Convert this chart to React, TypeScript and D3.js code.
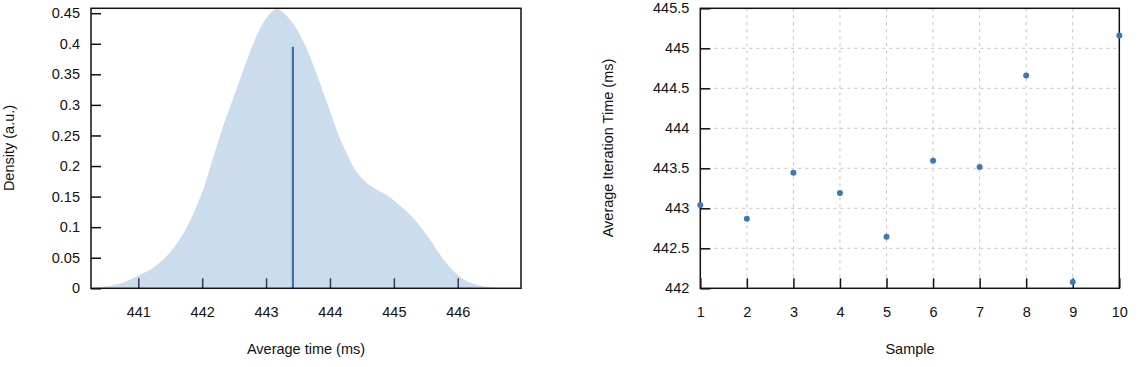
import React, { useRef, useEffect } from 'react';
import * as d3 from 'd3';

// density estimate of the average time
const densityX = [440.26, 440.5, 440.75, 441, 441.25, 441.5, 441.75, 442, 442.17, 442.33, 442.49, 442.64, 442.8, 442.95, 443.1, 443.2, 443.43, 443.6, 443.74, 444.0, 444.13, 444.27, 444.42, 444.63, 444.89, 445.1, 445.31, 445.57, 445.83, 446.09, 446.36, 446.6, 446.99];
const densityY = [0.0005, 0.003, 0.009, 0.021, 0.035, 0.059, 0.098, 0.157, 0.213, 0.266, 0.312, 0.356, 0.4, 0.433, 0.453, 0.456, 0.432, 0.4, 0.365, 0.29, 0.252, 0.219, 0.19, 0.168, 0.152, 0.135, 0.114, 0.079, 0.04, 0.015, 0.004, 0.001, 0];
const meanTime = 443.42;
const meanDensity = 0.395;

const pdfXTicks = [441, 442, 443, 444, 445, 446];
const pdfYTicks = [0, 0.05, 0.1, 0.15, 0.2, 0.25, 0.3, 0.35, 0.4, 0.45];

// average iteration time per sample
const samples = [1, 2, 3, 4, 5, 6, 7, 8, 9, 10];
const iterTimes = [443.04, 442.87, 443.445, 443.19, 442.645, 443.595, 443.516, 444.66, 442.08, 445.16];
const timeTicks = [442, 442.5, 443, 443.5, 444, 444.5, 445, 445.5];

const FONT = '"Liberation Sans", Arial, Helvetica, sans-serif';
const FS = 14.5;

export default function App() {
  const svgRef = useRef(null);

  useEffect(() => {
    const svg = d3.select(svgRef.current);
    svg.selectAll('*').remove();

    // ---------- left: density plot ----------
    const left = { x0: 91, x1: 521, y0: 8.3, y1: 288.3 };
    const xPdf = d3.scaleLinear().domain([440.26, 446.99]).range([left.x0, left.x1]);
    const yPdf = d3.scaleLinear().domain([0, 0.458]).range([left.y1, left.y0]);

    const pts = densityX.map((x, i) => [x, densityY[i]]);
    const area = d3.area()
      .x(d => xPdf(d[0]))
      .y0(yPdf(0))
      .y1(d => Math.min(yPdf(0), yPdf(d[1])))
      .curve(d3.curveCatmullRom.alpha(0.5));

    const gl = svg.append('g');
    gl.append('path').datum(pts).attr('d', area).attr('fill', '#cbdcec');

    gl.append('line')
      .attr('x1', xPdf(meanTime)).attr('x2', xPdf(meanTime))
      .attr('y1', yPdf(0)).attr('y2', yPdf(meanDensity))
      .attr('stroke', '#3b72ae').attr('stroke-width', 2.2);

    const xAxisL = gl.append('g')
      .attr('transform', `translate(0,${left.y1})`)
      .call(d3.axisBottom(xPdf).tickValues(pdfXTicks).tickSize(-10).tickPadding(18).tickFormat(d3.format('d')));
    const yAxisL = gl.append('g')
      .attr('transform', `translate(${left.x0},0)`)
      .call(d3.axisLeft(yPdf).tickValues(pdfYTicks).tickSize(-10).tickPadding(11).tickFormat(d => String(d)));
    [xAxisL, yAxisL].forEach(a => {
      a.select('.domain').remove();
      a.selectAll('text').attr('font-size', FS).attr('font-family', FONT).attr('fill', '#111');
    });
    xAxisL.selectAll('line').attr('stroke', '#333a44').attr('stroke-width', 1.5);
    yAxisL.selectAll('line').attr('stroke', '#111').attr('stroke-width', 1.5);

    gl.append('rect')
      .attr('x', left.x0).attr('y', left.y0)
      .attr('width', left.x1 - left.x0).attr('height', left.y1 - left.y0)
      .attr('fill', 'none').attr('stroke', '#111').attr('stroke-width', 1.5);

    gl.append('text')
      .attr('transform', `translate(9,148) rotate(-90)`)
      .attr('text-anchor', 'middle').attr('dominant-baseline', 'central')
      .attr('font-size', FS).attr('font-family', FONT).attr('fill', '#111')
      .text('Density (a.u.)');
    gl.append('text')
      .attr('x', 306).attr('y', 349)
      .attr('text-anchor', 'middle').attr('dominant-baseline', 'central')
      .attr('font-size', FS).attr('font-family', FONT).attr('fill', '#111')
      .text('Average time (ms)');

    // ---------- right: samples ----------
    const right = { x0: 700.3, x1: 1119.3, y0: 8.3, y1: 288.3 };
    const xS = d3.scaleLinear().domain([1, 10]).range([right.x0, right.x1]);
    const yS = d3.scaleLinear().domain([442, 445.5]).range([right.y1, right.y0]);

    const gr = svg.append('g');
    gr.append('g').selectAll('line').data(samples.slice(1, -1)).join('line')
      .attr('x1', d => xS(d)).attr('x2', d => xS(d))
      .attr('y1', right.y0).attr('y2', right.y1)
      .attr('stroke', '#bdbdbd').attr('stroke-width', 0.9).attr('stroke-dasharray', '3,4');
    gr.append('g').selectAll('line').data(timeTicks.slice(1, -1)).join('line')
      .attr('x1', right.x0).attr('x2', right.x1)
      .attr('y1', d => yS(d)).attr('y2', d => yS(d))
      .attr('stroke', '#bdbdbd').attr('stroke-width', 0.9).attr('stroke-dasharray', '3,4');

    const xAxisR = gr.append('g')
      .attr('transform', `translate(0,${right.y1})`)
      .call(d3.axisBottom(xS).tickValues(samples).tickSize(-10).tickPadding(18).tickFormat(d3.format('d')));
    const yAxisR = gr.append('g')
      .attr('transform', `translate(${right.x0},0)`)
      .call(d3.axisLeft(yS).tickValues(timeTicks).tickSize(-10).tickPadding(11).tickFormat(d => String(d)));
    [xAxisR, yAxisR].forEach(a => {
      a.select('.domain').remove();
      a.selectAll('text').attr('font-size', FS).attr('font-family', FONT).attr('fill', '#111');
      a.selectAll('line').attr('stroke', '#111').attr('stroke-width', 1.5);
    });

    gr.append('rect')
      .attr('x', right.x0).attr('y', right.y0)
      .attr('width', right.x1 - right.x0).attr('height', right.y1 - right.y0)
      .attr('fill', 'none').attr('stroke', '#111').attr('stroke-width', 1.5);

    gr.append('g').selectAll('circle').data(samples).join('circle')
      .attr('cx', d => xS(d))
      .attr('cy', (d, i) => yS(iterTimes[i]))
      .attr('r', 3)
      .attr('fill', '#3d78b5');

    gr.append('text')
      .attr('transform', `translate(608,148) rotate(-90)`)
      .attr('text-anchor', 'middle').attr('dominant-baseline', 'central')
      .attr('font-size', FS).attr('font-family', FONT).attr('fill', '#111')
      .text('Average Iteration Time (ms)');
    gr.append('text')
      .attr('x', 910).attr('y', 349)
      .attr('text-anchor', 'middle').attr('dominant-baseline', 'central')
      .attr('font-size', FS).attr('font-family', FONT).attr('fill', '#111')
      .text('Sample');
  }, []);

  return (
    <svg ref={svgRef} width={1140} height={367}
      style={{ position: 'absolute', left: 0, top: 0, background: '#fff' }} />
  );
}
